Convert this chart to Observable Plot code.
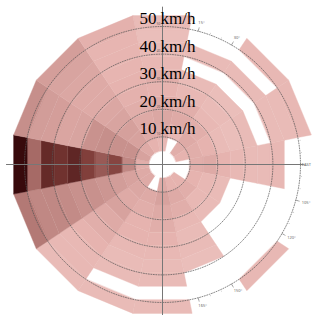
<!DOCTYPE html>
<html><head><meta charset="utf-8">
<script src="https://cdn.jsdelivr.net/npm/d3@7"></script>
<script src="https://cdn.jsdelivr.net/npm/@observablehq/plot@0.6"></script>
<style>body{margin:0;background:#fff}</style>
</head><body><div id="chart"></div>
<script>
// 16 compass sectors, clockwise from north
const directions = ["N","NNE","NE","ENE","E","ESE","SE","SSE","S","SSW","SW","WSW","W","WNW","NW","NNW"];
// ring edges (km/h)
const speedEdges = [5,10,15,20,25,30,35,40,45,50,55];
// relative frequency (0..1) per ring, inner → outer; null = no data
const vN   = [0.22,0.30,0.32,0.30,0.25,0.28,0.22,0.20,0.18,0.20];
const vNNE = [null,0.22,0.30,0.28,0.22,0.20,null,0.20,null,null];
const vNE  = [0.28,0.30,0.28,0.22,0.20,0.18,null,0.20,null,0.22];
const vENE = [0.25,0.28,0.25,0.20,0.18,0.20,null,0.20,0.20,0.22];
const vE   = [null,0.28,0.30,0.25,0.22,0.20,0.20,0.22,null,null];
const vESE = [null,0.25,0.22,0.20,null,null,null,null,null,null];
const vSE  = [0.25,0.28,0.22,0.20,null,null,null,null,null,0.22];
const vSSE = [0.25,0.30,0.28,0.22,0.20,0.20,0.18,null,null,null];
const vS   = [0.30,0.35,0.30,0.28,0.25,0.22,0.20,0.20,null,0.20];
const vSSW = [null,0.30,0.28,0.25,0.25,0.22,0.20,0.20,null,0.20];
const vSW  = [0.30,0.32,0.30,0.35,0.30,0.28,0.25,0.22,0.22,0.20];
const vWSW = [0.30,0.35,0.38,0.42,0.45,0.45,0.48,0.50,0.50,0.55];
const vW   = [0.28,0.50,0.72,0.65,0.74,0.86,0.80,0.84,0.60,1.00];
const vWNW = [0.35,0.45,0.45,0.46,0.44,0.34,0.33,0.37,0.38,0.46];
const vNW  = [0.30,0.35,0.36,0.34,0.32,0.30,0.30,0.32,0.34,0.37];
const vNNW = [0.25,0.30,0.30,0.28,0.26,0.25,0.24,0.24,0.24,0.26];
const sectorValues = [vN,vNNE,vNE,vENE,vE,vESE,vSE,vSSE,vS,vSSW,vSW,vWSW,vW,vWNW,vNW,vNNW];
// dashed speed circles and their labels
const speedRings = [10,20,30,40,50];
const speedUnit = "km/h";
// visible degree labels on the outer circle (right half)
const degreeTicks = [15,30,90,105,120,150,165];
const minorTickAngles = d3.range(0, 181, 5);

const rad = d => d * Math.PI / 180;
const polar = (r, deg) => ({x: r * Math.sin(rad(deg)), y: r * Math.cos(rad(deg))});
const step = 360 / directions.length;

const cellVerts = [];
sectorValues.forEach((vals, s) => {
  vals.forEach((v, i) => {
    if (v == null) return;
    const a0 = s * step - step / 2, a1 = s * step + step / 2;
    const r0 = speedEdges[i], r1 = speedEdges[i + 1];
    const id = directions[s] + "-" + i;
    [[r0, a0], [r1, a0], [r1, a1], [r0, a1]].forEach(([r, a]) => cellVerts.push({id, v, ...polar(r, a)}));
  });
});

const k = 2.76;
const circleVerts = speedRings.flatMap(r => d3.range(0, 360, 2).map(a => ({r, ...polar(r, a)})));
const numData = speedRings.map(r => ({label: String(r), x: -2.2, y: r + 0.9}));
const unitData = speedRings.map(r => ({label: speedUnit, x: -0.7, y: r + 0.9}));
const tinyData = speedRings.map(r => ({label: String(r), x: -1.45, y: r + 0.6}));
const degData = degreeTicks.map(a => ({a, label: a === 90 ? "EAST" : a + "°", ...polar(a === 90 ? 51.2 : 53, a)}));
const tickSegs = degreeTicks.flatMap(a => [{a, ...polar(50, a)}, {a, ...polar(51.3, a)}]);
const minorTicks = minorTickAngles.map(a => ({...polar(50.6, a)}));

const chart = Plot.plot({
  width: 315, height: 315,
  marginLeft: 162 - 57 * k, marginRight: 315 - (162 - 57 * k) - 112 * k,
  marginTop: 164 - 57 * k, marginBottom: 0,
  x: {domain: [-57, 55], axis: null},
  y: {domain: [-(315 - 164) / k, 57], axis: null},
  color: {type: "linear", domain: [0, 0.25, 0.5, 0.75, 1], range: ["#f6dad7", "#e6b3af", "#c08884", "#7e3c38", "#380a0c"]},
  marks: [
    Plot.line(tickSegs, {x: "x", y: "y", z: "a", stroke: "#777", strokeWidth: 0.6}),
    Plot.dot(minorTicks, {x: "x", y: "y", r: 0.4, fill: "#888", stroke: null}),
    Plot.text(degData, {x: "x", y: "y", text: "label", fontSize: 4, fill: "#666", textAnchor: "start", dx: -2}),
    Plot.line(cellVerts, {x: "x", y: "y", z: "id", fill: "v", stroke: "v", strokeWidth: 0.4, curve: "linear-closed"}),
    Plot.line(circleVerts, {x: "x", y: "y", z: "r", stroke: "#555", strokeWidth: 0.7, strokeDasharray: "1,1.5", curve: "linear-closed"}),
    Plot.ruleY([0], {x1: -56.5, x2: 51, stroke: "#777", strokeWidth: 1}),
    Plot.ruleX([0], {y1: -55, y2: 57, stroke: "#777", strokeWidth: 1}),
    Plot.text(tinyData, {x: "x", y: "y", text: "label", fontSize: 3, fill: "#555", textAnchor: "middle", lineAnchor: "bottom"}),
    Plot.text(numData, {x: "x", y: "y", text: "label", fontSize: 17, fontFamily: "Liberation Serif", fill: "#000", textAnchor: "end", lineAnchor: "bottom"}),
    Plot.text(unitData, {x: "x", y: "y", text: "label", fontSize: 17, fontFamily: "Liberation Serif", fill: "#000", textAnchor: "start", lineAnchor: "bottom"})
  ]
});
document.getElementById("chart").appendChild(chart);
</script>
</body></html>
